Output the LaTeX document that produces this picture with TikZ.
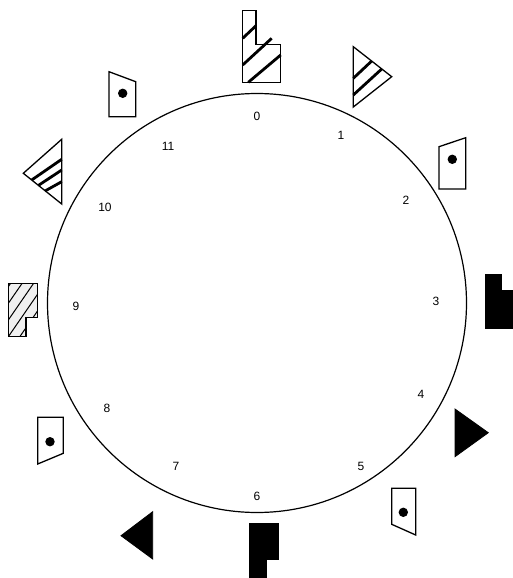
\documentclass[tikz,border=0pt]{standalone}
\usepackage{fontspec}
\setmainfont{Liberation Sans}
\begin{document}
\begin{tikzpicture}[x=1pt,y=-1pt,
  lbl/.style={inner sep=0pt,font=\fontsize{12}{14}\selectfont},
  outl/.style={draw=black,line width=1.3pt,line join=miter},
  solidshape/.style={fill=black,draw=black,line width=0.8pt},
  hatchthick/.style={line width=2.8pt},
  hatchthin/.style={line width=1pt},
  dotmark/.style={fill=black}]
\useasboundingbox (0,0) rectangle (513,578);
\node[circle,draw,line width=1.2pt,inner sep=0pt,minimum size=419pt] (clock) at (257,303) {};
% labels
\node[lbl] (l0) at (257,116) {0};
\node[lbl] (l1) at (341,135) {1};
\node[lbl] (l2) at (406,200) {2};
\node[lbl] (l3) at (436,301) {3};
\node[lbl] (l4) at (421,394) {4};
\node[lbl] (l5) at (361,466) {5};
\node[lbl] (l6) at (257,496) {6};
\node[lbl] (l7) at (176,466) {7};
\node[lbl] (l8) at (107,408) {8};
\node[lbl] (l9) at (76,306) {9};
\node[lbl] (l10) at (105,207) {10};
\node[lbl] (l11) at (168,146) {11};
% 0: hatched L
\draw[outl] (242.7,10.7) -- (256,10.7) -- (256,44.3) -- (280.7,44.3) -- (280.7,82.3) -- (242.7,82.3) -- cycle;
\draw[hatchthick] (242.7,38.3) -- (256,25.7);
\draw[hatchthick] (242.7,65) -- (271.7,38.3);
\draw[hatchthick] (248.3,82.3) -- (280.7,55);
% 1: hatched triangle
\draw[outl] (353.3,46.7) -- (391.7,76.7) -- (353.3,107) -- cycle;
\draw[hatchthick] (353.3,78.3) -- (371.7,61);
\draw[hatchthick] (353.3,95) -- (381.7,69);
% 2: quad with dot
\draw[outl] (439,146.7) -- (465.7,137.7) -- (465.7,189) -- (439,189) -- cycle;
\fill[dotmark] (452.3,159.3) circle (4.7);
% 3: black L
\draw[solidshape] (485.7,274) -- (501.7,274) -- (501.7,290) -- (520,290) -- (520,328.3) -- (485.7,328.3) -- cycle;
% 4: black triangle
\draw[solidshape] (455,409) -- (488.3,432.7) -- (455,456.7) -- cycle;
% 5: quad with dot
\draw[outl] (391.7,488.3) -- (415.7,488.3) -- (415.7,535) -- (391.7,524.3) -- cycle;
\fill[dotmark] (403.3,512.3) circle (4.7);
% 6: black L
\draw[solidshape] (249,523.3) -- (278.3,523.3) -- (278.3,559.3) -- (266,559.3) -- (266,590) -- (249,590) -- cycle;
% 7: black triangle left
\draw[solidshape] (152.7,511.7) -- (121,535.7) -- (152.7,559) -- cycle;
% 8: quad with dot
\draw[outl] (37.7,417.3) -- (63.3,417.3) -- (63.3,453.3) -- (37.7,464) -- cycle;
\fill[dotmark] (50,441.7) circle (4.7);
% 9: light hatched L
\fill[gray!12] (8.7,283.3) -- (37.3,283.3) -- (37.3,317.3) -- (26,317.3) -- (26,336.7) -- (8.7,336.7) -- cycle;
\begin{scope}
\clip (8.7,283.3) -- (37.3,283.3) -- (37.3,317.3) -- (26,317.3) -- (26,336.7) -- (8.7,336.7) -- cycle;
\foreach \x in {-26.2,-14.7,-3.2,8.3,19.8}
  \draw[hatchthin] (\x,336.7) -- ++(40,-58);
\end{scope}
\draw[outl] (8.7,283.3) -- (37.3,283.3) -- (37.3,317.3) -- (26,317.3) -- (26,336.7) -- (8.7,336.7) -- cycle;
% 10: hatched triangle left
\draw[outl] (61.7,139.3) -- (23.3,173.3) -- (61.7,204) -- cycle;
\draw[hatchthick] (31.7,180) -- (61.7,159.3);
\draw[hatchthick] (38.3,185.5) -- (61.7,170);
\draw[hatchthick] (45,191) -- (61.7,181.7);
% 11: quad with dot
\draw[outl] (109,71.7) -- (135.7,81.7) -- (135.7,116.7) -- (109,116.7) -- cycle;
\fill[dotmark] (122.7,93.3) circle (4.7);
\end{tikzpicture}
\end{document}
